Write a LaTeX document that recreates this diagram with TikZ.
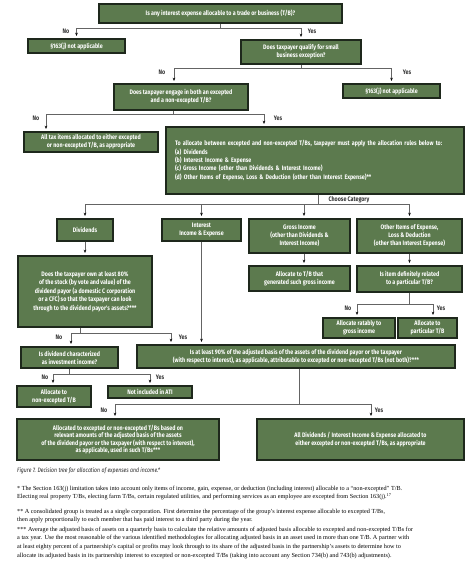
\documentclass[tikz,border=0pt]{standalone}
\usepackage{fontspec}
\setmainfont{Liberation Serif}
\newfontfamily\boxfont[FakeStretch=0.82]{Fira Sans}
\usetikzlibrary{arrows.meta,calc}

\definecolor{boxgreen}{RGB}{92,122,78}
\definecolor{boxline}{RGB}{30,40,28}
\definecolor{linkgray}{RGB}{100,100,100}

\tikzset{
  box/.style={draw=boxline, line width=1.1pt, fill=boxgreen, text=white, align=center,
    font=\boxfont\bfseries\fontsize{6.5}{8}\selectfont, inner sep=1pt},
  link/.style={draw=linkgray, line width=0.7pt},
  arr/.style={link, -{Stealth[length=3.2pt,width=2.6pt,black]}, shorten >=2.5pt},
  lbl/.style={font=\boxfont\bfseries\fontsize{6.5}{7}\selectfont, text=black!80, inner sep=0pt},
  note/.style={font=\fontsize{6.2}{8.7}\selectfont, align=left, anchor=north west, inner sep=0pt},
}

\begin{document}
\begin{tikzpicture}[x=1pt, y=-1pt]

    % Page size and background
    \useasboundingbox (0,0) rectangle (474,564);
    \fill[white] (0,0) rectangle (474,564);

    % Top questions
    \node[box, minimum width=243pt, minimum height=19pt] (q1) at (220.5,13.5)
        {Is any interest expense allocable to a trade or business (T/B)?};
    \node[box, minimum width=97pt, minimum height=14pt] (na1) at (76.5,46)
        {§163(j) not applicable};
    \node[box, minimum width=120pt, minimum height=24pt] (q2) at (301,52)
        {Does taxpayer qualify for small\\business exception?};
    \node[box, minimum width=134pt, minimum height=26pt] (q3) at (181,97)
        {Does taxpayer engage in both an excepted\\and a non-excepted T/B?};
    \node[box, minimum width=97pt, minimum height=14pt] (na2) at (391.5,91)
        {§163(j) not applicable};
    \node[box, minimum width=134pt, minimum height=20pt] (all1) at (91,142)
        {All tax items allocated to either excepted\\or non-excepted T/B, as appropriate};

    % Allocation rules
    \node[box, minimum width=298pt, minimum height=67pt, text width=280pt, inner xsep=9pt,
        align=left, font=\boxfont\bfseries\fontsize{6.5}{8.3}\selectfont] (big) at (315,160.5)
        {To allocate between excepted and non-excepted T/Bs, taxpayer must apply the allocation rules below to:\\
         (a) Dividends\\
         (b) Interest Income \& Expense\\
         (c) Gross Income (other than Dividends \& Interest Income)\\
         (d) Other Items of Expense, Loss \& Deduction (other than Interest Expense)**};

    % Categories
    \node[box, minimum width=56pt, minimum height=22pt] (div) at (85,230) {Dividends};
    \node[box, minimum width=79pt, minimum height=22pt] (intr) at (201.5,230)
        {Interest\\Income \& Expense};
    \node[box, minimum width=101pt, minimum height=34pt] (gross) at (299.5,236)
        {Gross Income\\(other than Dividends \&\\Interest Income)};
    \node[box, minimum width=105pt, minimum height=34pt] (other) at (409.5,236)
        {Other Items of Expense,\\Loss \& Deduction\\(other than Interest Expense)};

    % Second level
    \node[box, minimum width=134pt, minimum height=71pt, font=\boxfont\bfseries\fontsize{6.5}{8.4}\selectfont]
        (divq) at (85,291.5)
        {Does the taxpayer own at least 80\%\\of the stock (by vote and value) of the\\dividend payor (a domestic C corporation\\or a CFC) so that the taxpayer can look\\through to the dividend payor's assets?***};
    \node[box, minimum width=101pt, minimum height=25pt] (alloc1) at (299.5,278.5)
        {Allocate to T/B that\\generated such gross income};
    \node[box, minimum width=105pt, minimum height=26pt] (itemq) at (409.5,279)
        {Is item definitely related\\to a particular T/B?};
    \node[box, minimum width=72pt, minimum height=20pt] (ratab) at (359,328)
        {Allocate ratably to\\gross income};
    \node[box, minimum width=59pt, minimum height=20pt] (partic) at (427.5,328)
        {Allocate to\\particular T/B};

    % Third level
    \node[box, minimum width=97pt, minimum height=21pt] (invq) at (69.5,357.5)
        {Is dividend characterized\\as investment income?};
    \node[box, minimum width=318pt, minimum height=23pt] (ninety) at (296,356.5)
        {Is at least 90\% of the adjusted basis of the assets of the dividend payor or the taxpayer\\(with respect to interest), as applicable, attributable to excepted or non-excepted T/Bs (not both)?***};
    \node[box, minimum width=74pt, minimum height=21pt] (nonexc) at (54,396.5)
        {Allocate to\\non-excepted T/B};
    \node[box, minimum width=84pt, minimum height=12pt] (noati) at (150,392)
        {Not included in ATI};

    % Outcomes
    \node[box, minimum width=202pt, minimum height=41pt, font=\boxfont\bfseries\fontsize{6.5}{7.6}\selectfont]
        (allocb) at (118,439.5)
        {Allocated to excepted or non-excepted T/Bs based on\\relevant amounts of the adjusted basis of the assets\\of the dividend payor or the taxpayer (with respect to interest),\\as applicable, used in such T/Bs***};
    \node[box, minimum width=207pt, minimum height=41pt] (allyes) at (360.5,439.5)
        {All Dividends / Interest Income \& Expense allocated to\\either excepted or non-excepted T/Bs, as appropriate};

    % Connectors
    \draw[link] (q1.south) -- ++(0,5) coordinate (j1);
    \draw[arr] (j1) -| (na1.north);
    \draw[arr] (j1) -| (q2.north);

    \draw[link] (q2.south) -- ++(0,4) coordinate (j2);
    \draw[arr] (j2) -| ([xshift=-7pt]q3.north);
    \draw[arr] (j2) -| (na2.north);

    \draw[link] ([xshift=-8pt]q3.south) -- ++(0,4) coordinate (j3);
    \draw[arr] (j3) -| ([xshift=-45pt]all1.north);
    \draw[arr] (j3) -| ([xshift=-51pt]big.north);

    \draw[link] ([xshift=3pt]big.south) -- ++(0,10) coordinate (j4);
    \draw[arr] (j4) -| (div.north);
    \draw[arr] (j4) -| (intr.north);
    \draw[arr] (j4) -| ([xshift=4.5pt]gross.north);
    \draw[arr] (j4) -| (other.north);

    \draw[arr] (div.south) -- (divq.north);
    \draw[arr] ([xshift=4.5pt]gross.south) -- ([xshift=4.5pt]alloc1.north);
    \draw[arr] (other.south) -- (itemq.north);
    \draw[arr] (intr.south) -- (intr.south |- ninety.north);

    \draw[link] ([xshift=-5pt]divq.south) -- ++(0,6) coordinate (j5);
    \draw[arr] (j5) -| ([xshift=1.5pt]invq.north);
    \draw[arr] (j5) -| ([xshift=-125pt]ninety.north);

    \draw[link] (invq.south) -- ++(0,6) coordinate (j6);
    \draw[arr] (j6) -| ([xshift=-1pt]nonexc.north);
    \draw[arr] (j6) -| (noati.north);

    \draw[link] (itemq.south) -- ++(0,12) coordinate (j7);
    \draw[arr] (j7) -| ([xshift=-2pt]ratab.north);
    \draw[arr] (j7) -| ([xshift=5.5pt]partic.north);

    \draw[link] ([xshift=3pt]ninety.south) -- ++(0,36) coordinate (j8);
    \draw[arr] (j8) -| ([xshift=-3pt]allocb.north);
    \draw[arr] (j8) -| ([xshift=10.5pt]allyes.north);

    % Branch labels
    \node[lbl] (no1) at (66,31) {No};
    \node[lbl] (yes1) at (312,31) {Yes};
    \node[lbl] (no2) at (162,72) {No};
    \node[lbl] (yes2) at (407,72) {Yes};
    \node[lbl] (no3) at (36,118) {No};
    \node[lbl] (yes3) at (278,118) {Yes};
    \node[lbl] (choose) at (349,200) {Choose Category};
    \node[lbl] (no4) at (59,337) {No};
    \node[lbl] (yes4) at (183,337) {Yes};
    \node[lbl] (no5) at (45,377) {No};
    \node[lbl] (yes5) at (160,377) {Yes};
    \node[lbl] (no6) at (348,308) {No};
    \node[lbl] (yes6) at (441,308) {Yes};
    \node[lbl] (no7) at (104,410) {No};
    \node[lbl] (yes7) at (379,410) {Yes};

    % Caption and footnotes
    \node[font=\boxfont\itshape\fontsize{6.3}{7}\selectfont, anchor=west, inner sep=0pt, text=black!85]
        (cap) at (17,471) {Figure 7. Decision tree for allocation of expenses and income.*};
    \node[note] (fn1) at (17,485.5)
        {* The Section 163(j) limitation takes into account only items of income, gain, expense, or deduction (including interest) allocable to a ``non-excepted'' T/B.\\
         Electing real property T/Bs, electing farm T/Bs, certain regulated utilities, and performing services as an employee are excepted from Section 163(j).\textsuperscript{17}};
    \node[note] (fn2) at (17,508.5)
        {** A consolidated group is treated as a single corporation. First determine the percentage of the group's interest expense allocable to excepted T/Bs,\\
         then apply proportionally to each member that has paid interest to a third party during the year.};
    \node[note] (fn3) at (17,526.5)
        {*** Average the adjusted basis of assets on a quarterly basis to calculate the relative amounts of adjusted basis allocable to excepted and non-excepted T/Bs for\\
         a tax year. Use the most reasonable of the various identified methodologies for allocating adjusted basis in an asset used in more than one T/B. A partner with\\
         at least eighty percent of a partnership's capital or profits may look through to its share of the adjusted basis in the partnership's assets to determine how to\\
         allocate its adjusted basis in its partnership interest to excepted or non-excepted T/Bs (taking into account any Section 734(b) and 743(b) adjustments).};

\end{tikzpicture}
\end{document}
